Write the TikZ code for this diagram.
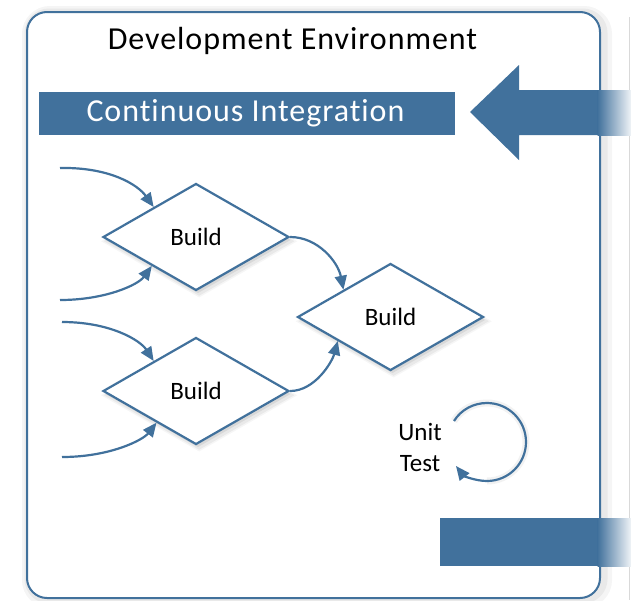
\documentclass[tikz,border=0pt]{standalone}
\usepackage{fontspec}
\setmainfont{Carlito}[RawFeature=-liga]
\newfontfamily\spacedfont{Carlito}[LetterSpace=3,RawFeature=-liga]
\usetikzlibrary{arrows.meta,shapes.geometric,calc,shadows}
\definecolor{ciblue}{RGB}{65,113,156}
\begin{document}
\begin{tikzpicture}[x=1pt,y=-1pt,
  conn/.style={draw=ciblue,line width=2.2pt,-{Triangle[length=14pt,width=12pt]}},
  softshadow/.style={
    drop shadow={opacity=0.035,fill=black,shadow xshift=3pt,shadow yshift=-4pt,shadow scale=1.06},
    drop shadow={opacity=0.05,fill=black,shadow xshift=3pt,shadow yshift=-4pt,shadow scale=1.03},
    drop shadow={opacity=0.07,fill=black,shadow xshift=2pt,shadow yshift=-3pt,shadow scale=1.0}},
  buildbox/.style={shape=diamond,draw=ciblue,line width=2.2pt,fill=white,
    minimum width=186pt,minimum height=107pt,inner sep=0pt,aspect=1.74,
    font=\fontsize{25}{30}\selectfont,softshadow},
  bigfont/.style={font=\spacedfont\fontsize{32}{38}\selectfont}
]
\useasboundingbox (0,0) rectangle (631,600);

% neighbouring panel edge
\draw[black!15,line width=1pt] (629,17) -- (629,600);

% glow of the main box
\draw[black,opacity=0.04,line width=16pt,rounded corners=20pt] (30,14) rectangle (604,600);
\draw[black,opacity=0.05,line width=9pt,rounded corners=20pt] (29,13) rectangle (603,599);
% main box
\draw[ciblue,line width=2pt,fill=white,rounded corners=20pt] (27,12) rectangle (600,598);

% title
\node[bigfont,anchor=base] (title) at (292.5,49) {Development Environment};

% continuous integration bar
\fill[ciblue] (39,92) rectangle (455,135);
\node[bigfont,text=white,anchor=base] (ci) at (245.5,121) {Continuous Integration};

% big incoming arrow
\fill[ciblue] (470,112) -- (519,65) -- (519,90) -- (598,90) -- (598,135) -- (519,135) -- (519,160) -- cycle;
\shade[left color=ciblue,right color=ciblue!8] (597.5,90) rectangle (631,135);

% bottom bar
\fill[ciblue] (440,518) rectangle (598,566);
\shade[left color=ciblue,right color=ciblue!8] (597.5,518) rectangle (631,566);

% build diamonds
\node[buildbox] (d1) at (196,237) {Build};
\node[buildbox] (d2) at (196,391) {Build};
\node[buildbox] (d3) at (390.5,317) {Build};

% free ends and tips
\coordinate (s1) at (60,168);
\coordinate (s2) at (60,300);
\coordinate (s3) at (62,322);
\coordinate (s4) at (62,457);
\coordinate (t1) at ($(d1.west)!0.55!(d1.north)$);
\coordinate (t2) at ($(d1.west)!0.53!(d1.south)$);
\coordinate (t3) at ($(d2.west)!0.55!(d2.north)$);
\coordinate (t4) at ($(d2.west)!0.58!(d2.south)$);
\coordinate (t5) at ($(d3.west)!0.50!(d3.north)$);
\coordinate (t6) at ($(d3.west)!0.44!(d3.south)$);

\draw[conn] (s1) .. controls (110,167) and (138,185) .. (t1);
\draw[conn] (s2) .. controls (105,300) and (138,285) .. (t2);
\draw[conn] (s3) .. controls (110,322) and (140,340) .. (t3);
\draw[conn] (s4) .. controls (110,457) and (143,440) .. (t4);
\draw[conn] (d1.east) .. controls (318,237) and (338,262) .. (t5);
\draw[conn] (d2.east) .. controls (315,391) and (332,362) .. (t6);

% unit test loop
\node[font=\fontsize{25}{31}\selectfont,align=center] (ut) at (420,447) {Unit\\Test};
\coordinate (u1) at (454,421);
\coordinate (u2) at (456,466);
\draw[black,opacity=0.05,line width=7pt] (u1) .. controls (461,409.6) and (473.5,403) .. (487,403)
  .. controls (508.5,403) and (526,420.5) .. (526,442)
  .. controls (526,463.5) and (508.5,481) .. (487,481);
\draw[conn] (u1) .. controls (461.1,409.6) and (473.5,403) .. (487,403)
  .. controls (508.5,403) and (526,420.5) .. (526,442)
  .. controls (526,463.5) and (508.5,481) .. (487,481)
  .. controls (475,481) and (463.4,475.5) .. (u2);
\end{tikzpicture}
\end{document}
